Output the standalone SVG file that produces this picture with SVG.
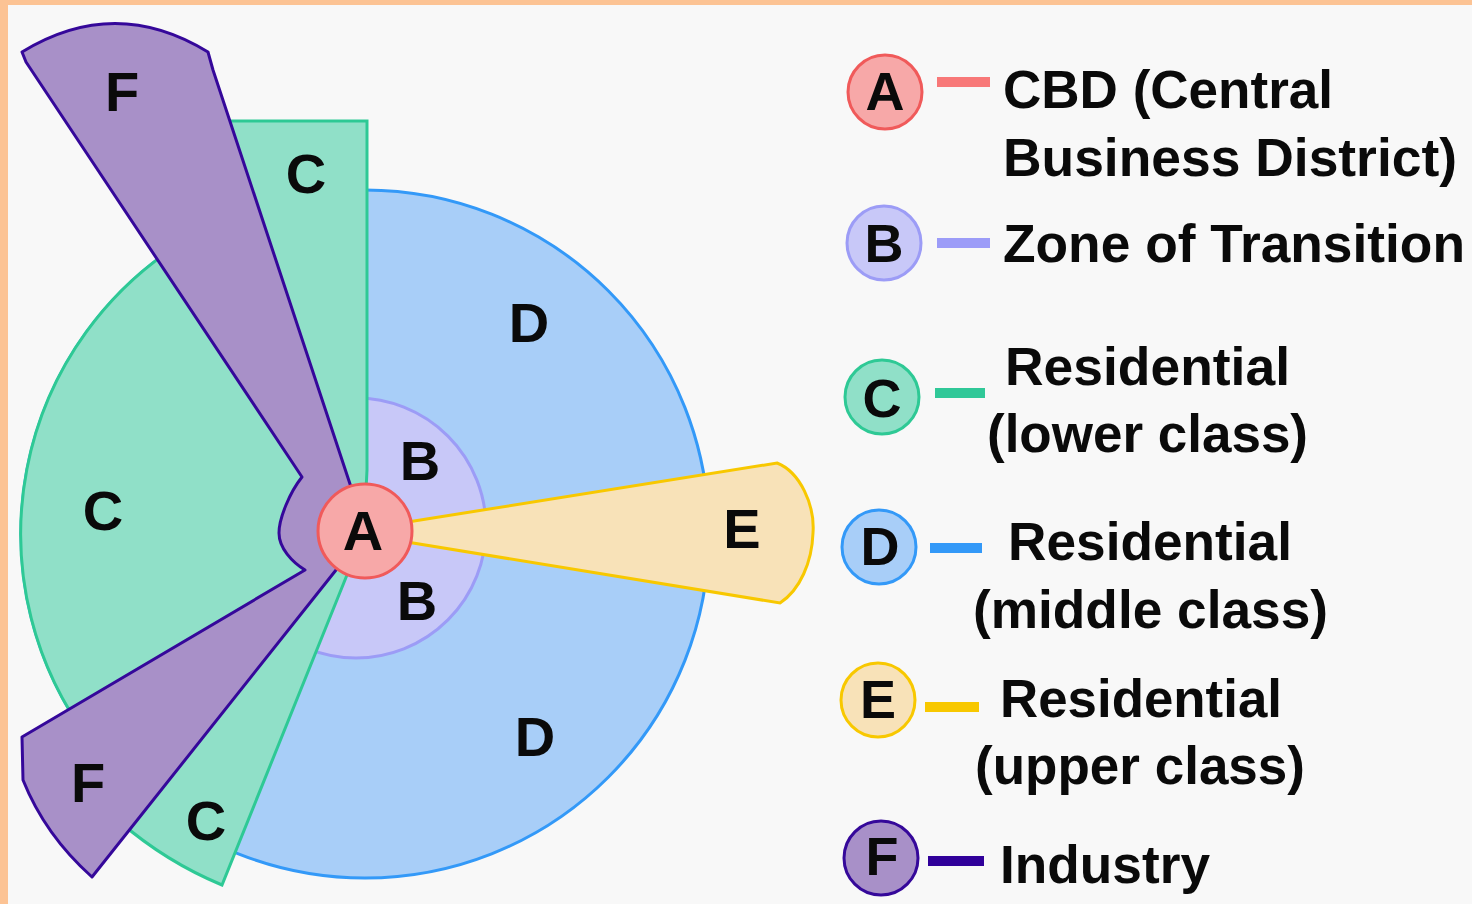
<svg xmlns="http://www.w3.org/2000/svg" width="1472" height="904" viewBox="0 0 1472 904">
<style>
text{font-family:"Liberation Sans",Arial,sans-serif;font-weight:bold;fill:#0a0a0a}
.map{font-size:56px;text-anchor:middle}
.lt{font-size:54px}
.ltm{font-size:54px;text-anchor:middle}
.lg{font-size:54px;text-anchor:middle}
.zA{fill:#f7a8a8;stroke:#f05a5a;stroke-width:3}
.zB{fill:#c8c8f8;stroke:#9c9cf6;stroke-width:3}
.zC{fill:#90e0c8;stroke:#2ec995;stroke-width:3}
.zD{fill:#a8cef8;stroke:#3399f8;stroke-width:3}
.zE{fill:#f8e2b8;stroke:#f8c800;stroke-width:3}
.zF{fill:#a890c8;stroke:#35089a;stroke-width:3;stroke-linejoin:round}
.dash{stroke-width:10;fill:none}
</style>
<rect x="0" y="0" width="1472" height="904" fill="#fcc394"/>
<rect x="8" y="5" width="1464" height="899" fill="#f8f8f8"/>
<g id="zone-D"><circle class="zD" cx="365" cy="534" r="344"/></g>
<g id="zone-B"><circle class="zB" cx="356" cy="528" r="130"/></g>
<g id="zone-C"><path class="zC" d="M364,531 L367,470 L367,121 L222,121 L186,240 A344,344 0 0 0 90,741 L120,822 A380,380 0 0 0 222,885 L349,570 Z"/></g>
<g id="zone-F"><path class="zF" d="M22,52 Q115,-5 208,52 L213,70 L352,490 L364,531 L340,565 L92,877 Q45,835 23,780 L22,737 L305,570 C292,562 279,548 279,533 C279,518 290,492 302,477 L26,62 Z"/></g>
<g id="zone-E"><path class="zE" d="M364,529 L777,463 C800,472 815,505 813,533 C812,562 800,590 780,603 L364,535 Z"/></g>
<g id="zone-A"><circle class="zA" cx="365" cy="531" r="47"/></g>
<g id="map-labels">
<text class="map" x="122" y="111">F</text>
<text class="map" x="306" y="193">C</text>
<text class="map" x="529" y="342">D</text>
<text class="map" x="420" y="480">B</text>
<text class="map" x="103" y="530">C</text>
<text class="map" x="363" y="550">A</text>
<text class="map" x="417" y="620">B</text>
<text class="map" x="742" y="548">E</text>
<text class="map" x="535" y="756">D</text>
<text class="map" x="88" y="802">F</text>
<text class="map" x="206" y="840">C</text>
</g>
<g id="connectors"></g>
<g id="legend-A">
<circle class="zA" cx="885" cy="92" r="37"/>
<text class="lg" x="885" y="110">A</text>
<line class="dash" x1="937" y1="82" x2="990" y2="82" stroke="#f87878"/>
<text class="lt" x="1003" y="108" textLength="330" lengthAdjust="spacingAndGlyphs">CBD (Central</text>
<text class="lt" x="1003" y="176" textLength="454" lengthAdjust="spacingAndGlyphs">Business District)</text>
</g>
<g id="legend-B">
<circle class="zB" cx="884" cy="243" r="37"/>
<text class="lg" x="884" y="262">B</text>
<line class="dash" x1="937" y1="243" x2="990" y2="243" stroke="#9c9cf8"/>
<text class="lt" x="1003" y="262" textLength="462" lengthAdjust="spacingAndGlyphs">Zone of Transition</text>
</g>
<g id="legend-C">
<circle class="zC" cx="882" cy="397" r="37"/>
<text class="lg" x="882" y="417">C</text>
<line class="dash" x1="935" y1="393" x2="985" y2="393" stroke="#30c898"/>
<text class="lt" x="1005" y="385" textLength="285" lengthAdjust="spacingAndGlyphs">Residential</text>
<text class="lt" x="987" y="452" textLength="321" lengthAdjust="spacingAndGlyphs">(lower class)</text>
</g>
<g id="legend-D">
<circle class="zD" cx="879" cy="547" r="37"/>
<text class="lg" x="880" y="565">D</text>
<line class="dash" x1="930" y1="548" x2="982" y2="548" stroke="#3399f8"/>
<text class="lt" x="1008" y="560" textLength="284" lengthAdjust="spacingAndGlyphs">Residential</text>
<text class="lt" x="973" y="628" textLength="355" lengthAdjust="spacingAndGlyphs">(middle class)</text>
</g>
<g id="legend-E">
<circle class="zE" cx="878" cy="700" r="37"/>
<text class="lg" x="878" y="718">E</text>
<line class="dash" x1="925" y1="707" x2="979" y2="707" stroke="#f8c800"/>
<text class="lt" x="1000" y="717" textLength="282" lengthAdjust="spacingAndGlyphs">Residential</text>
<text class="lt" x="975" y="784" textLength="330" lengthAdjust="spacingAndGlyphs">(upper class)</text>
</g>
<g id="legend-F">
<circle class="zF" cx="881" cy="858" r="37"/>
<text class="lg" x="882" y="875">F</text>
<line class="dash" x1="928" y1="861" x2="984" y2="861" stroke="#30009a"/>
<text class="lt" x="1000" y="883" textLength="210" lengthAdjust="spacingAndGlyphs">Industry</text>
</g>
</svg>
